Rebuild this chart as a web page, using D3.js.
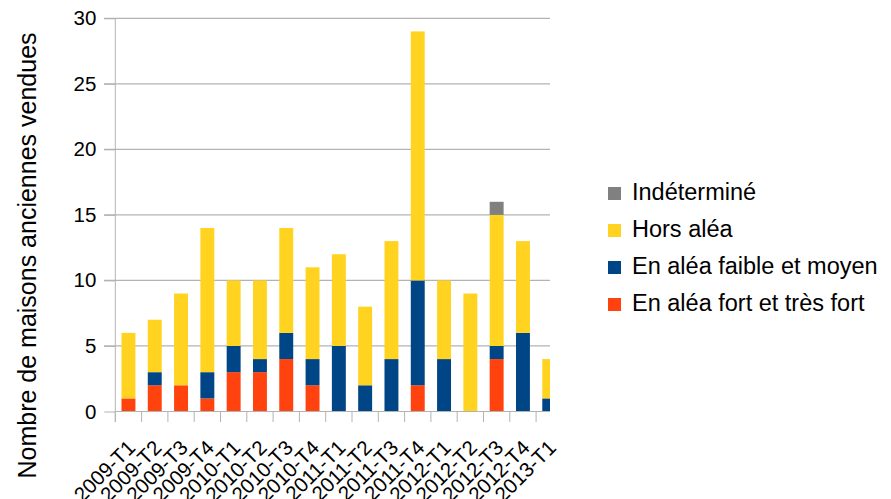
<!DOCTYPE html>
<html>
<head>
<meta charset="utf-8">
<script src="https://cdn.jsdelivr.net/npm/d3@7.9.0/dist/d3.min.js"></script>
<style>
  body { margin: 0; background: #fff; }
  svg { font-family: "Liberation Sans", Arial, sans-serif; }
</style>
</head>
<body>
<div id="chart"></div>
<script>
const categories = ["2009-T1", "2009-T2", "2009-T3", "2009-T4", "2010-T1", "2010-T2", "2010-T3", "2010-T4",
  "2011-T1", "2011-T2", "2011-T3", "2011-T4", "2012-T1", "2012-T2", "2012-T3", "2012-T4", "2013-T1"];

// one array per series, stacked bottom to top
const fort =   [1, 2, 2, 1, 3, 3, 4, 2, 0, 0, 0, 2, 0, 0, 4, 0, 0];
const faible = [0, 1, 0, 2, 2, 1, 2, 2, 5, 2, 4, 8, 4, 0, 1, 6, 1];
const hors =   [5, 4, 7, 11, 5, 6, 8, 7, 7, 6, 9, 19, 6, 9, 10, 7, 3];
const indet =  [0, 0, 0, 0, 0, 0, 0, 0, 0, 0, 0, 0, 0, 0, 1, 0, 0];

const seriesNames = ["En aléa fort et très fort", "En aléa faible et moyen", "Hors aléa", "Indéterminé"];
const seriesColors = ["#ff420e", "#004586", "#ffd320", "#808080"];
const yTicks = [0, 5, 10, 15, 20, 25, 30];

const width = 891;
const height = 499;
const plotLeft = 115.3;
const plotRight = 550;
const step = 26.3;

const svg = d3.select("#chart")
  .append("svg")
  .attr("width", width)
  .attr("height", height);

const x = d3.scaleBand()
  .domain(categories)
  .range([plotLeft, plotLeft + step * categories.length])
  .paddingInner(0.47)
  .paddingOuter(0.235);

const y = d3.scaleLinear()
  .domain([0, 30])
  .range([411.5, 18.3]);

// gridlines
svg.append("g")
  .selectAll("line")
  .data(yTicks.filter(d => d > 0))
  .join("line")
  .attr("x1", 104)
  .attr("x2", plotRight)
  .attr("y1", d => y(d))
  .attr("y2", d => y(d))
  .attr("stroke", "#b3b3b3")
  .attr("stroke-width", 1.2);

// stacked bars
const table = categories.map((c, i) => ({ cat: c, s0: fort[i], s1: faible[i], s2: hors[i], s3: indet[i] }));
const stack = d3.stack().keys(["s0", "s1", "s2", "s3"])(table);

svg.append("clipPath")
  .attr("id", "clip")
  .append("rect")
  .attr("x", plotLeft)
  .attr("y", 0)
  .attr("width", plotRight - plotLeft)
  .attr("height", height);

svg.append("g")
  .attr("clip-path", "url(#clip)")
  .selectAll("g")
  .data(stack)
  .join("g")
  .attr("fill", (d, i) => seriesColors[i])
  .selectAll("rect")
  .data(d => d.filter(p => p[1] > p[0]))
  .join("rect")
  .attr("x", d => x(d.data.cat))
  .attr("width", x.bandwidth())
  .attr("y", d => y(d[1]))
  .attr("height", d => y(d[0]) - y(d[1]));

// y axis
const yAxis = svg.append("g")
  .attr("transform", `translate(${plotLeft},0)`)
  .call(d3.axisLeft(y).tickValues(yTicks).tickSize(11).tickPadding(8));
yAxis.select(".domain").remove();
yAxis.selectAll(".tick line").attr("stroke", "#b3b3b3");
yAxis.selectAll("text")
  .attr("font-size", 20.5)
  .attr("fill", "#000")
  .attr("font-family", "Liberation Sans, Arial, sans-serif");

svg.append("line")
  .attr("x1", plotLeft).attr("x2", plotLeft)
  .attr("y1", y(30)).attr("y2", 422)
  .attr("stroke", "#b3b3b3");

// x axis
svg.append("line")
  .attr("x1", plotLeft).attr("x2", plotRight)
  .attr("y1", y(0)).attr("y2", y(0))
  .attr("stroke", "#b3b3b3");

svg.append("g")
  .selectAll("line")
  .data(categories.filter((c, i) => plotLeft + i * step < plotRight))
  .join("line")
  .attr("x1", (c, i) => plotLeft + i * step)
  .attr("x2", (c, i) => plotLeft + i * step)
  .attr("y1", y(0))
  .attr("y2", 422)
  .attr("stroke", "#b3b3b3");

svg.append("g")
  .selectAll("text")
  .data(categories)
  .join("text")
  .attr("transform", d => `translate(${x(d) + x.bandwidth() / 2 + 8},449) rotate(-45)`)
  .attr("text-anchor", "end")
  .attr("font-size", 20.5)
  .text(d => d);

// y title
svg.append("text")
  .attr("transform", "translate(36,255.5) rotate(-90)")
  .attr("text-anchor", "middle")
  .attr("font-size", 25)
  .text("Nombre de maisons anciennes vendues");

// legend, top entry is the last series
const legendOrder = [3, 2, 1, 0];
const legend = svg.append("g")
  .selectAll("g")
  .data(legendOrder)
  .join("g")
  .attr("transform", (d, i) => `translate(608,${200 + i * 37})`);

legend.append("rect")
  .attr("x", 0)
  .attr("y", -13)
  .attr("width", 13)
  .attr("height", 13)
  .attr("fill", d => seriesColors[d]);

legend.append("text")
  .attr("x", 24)
  .attr("y", 0)
  .attr("font-size", 23.5)
  .text(d => seriesNames[d]);
</script>
</body>
</html>
